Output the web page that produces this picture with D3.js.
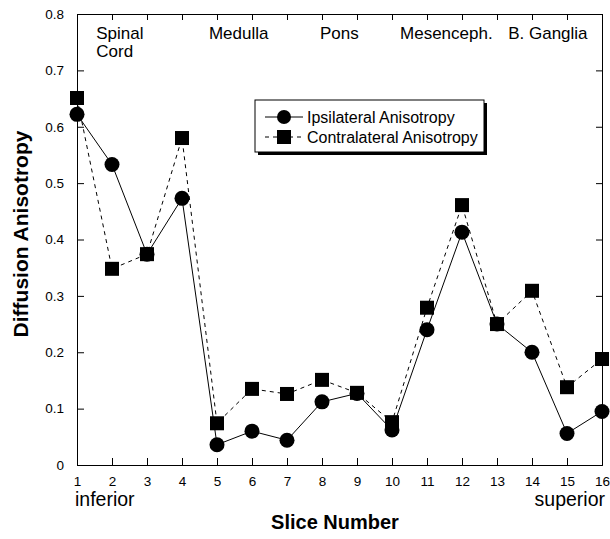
<!DOCTYPE html>
<html>
<head>
<meta charset="utf-8">
<script src="https://cdn.jsdelivr.net/npm/d3@7"></script>
<style>
  body { margin: 0; background: #fff; }
  svg text { font-family: "Liberation Sans", Arial, Helvetica, sans-serif; fill: #000; }
</style>
</head>
<body>
<svg id="chart" width="610" height="539"></svg>
<script>
// Slice numbers along x
const slices = [1, 2, 3, 4, 5, 6, 7, 8, 9, 10, 11, 12, 13, 14, 15, 16];
// Ipsilateral anisotropy (circles, solid line)
const ipsilateral = [0.622, 0.533, 0.374, 0.473, 0.036, 0.060, 0.044, 0.112, 0.127, 0.062, 0.240, 0.413, 0.250, 0.200, 0.056, 0.095];
// Contralateral anisotropy (squares, dashed line)
const contralateral = [0.651, 0.348, 0.374, 0.580, 0.074, 0.135, 0.126, 0.151, 0.128, 0.076, 0.279, 0.461, 0.250, 0.309, 0.138, 0.188];
const yTicks = [0, 0.1, 0.2, 0.3, 0.4, 0.5, 0.6, 0.7, 0.8];
// Region labels shown near the top, placed at slice positions
const regions = [
  { lines: ['Spinal', 'Cord'], slice: 1.55 },
  { lines: ['Medulla'], slice: 4.77 },
  { lines: ['Pons'], slice: 7.94 },
  { lines: ['Mesenceph.'], slice: 10.23 },
  { lines: ['B. Ganglia'], slice: 13.32 },
];

const margin = { top: 14, right: 8, bottom: 74, left: 77 };
const width = 610 - margin.left - margin.right;
const height = 539 - margin.top - margin.bottom;

const svg = d3.select('#chart');
const g = svg.append('g').attr('transform', `translate(${margin.left},${margin.top})`);

const x = d3.scaleLinear().domain([1, 16]).range([0, width]);
const y = d3.scaleLinear().domain([0, 0.8]).range([height, 0]);

// Frame with inward ticks on all four sides
const bottomAxis = d3.axisBottom(x).tickValues(slices).tickSize(-7).tickPadding(11).tickFormat(d3.format('d'));
const leftAxis = d3.axisLeft(y).tickValues(yTicks).tickSize(-7).tickPadding(13).tickFormat(d => d === 0 ? '0' : d3.format('.1f')(d));
const topAxis = d3.axisTop(x).tickValues(slices).tickSize(-6).tickFormat('');
const rightAxis = d3.axisRight(y).tickValues(yTicks).tickSize(-6).tickFormat('');

const styleAxis = (sel) => {
  sel.select('.domain').attr('stroke', '#000').attr('stroke-width', 1);
  sel.selectAll('.tick line').attr('stroke', '#000');
  sel.selectAll('.tick text').attr('font-size', 13.5).attr('font-family', '"Liberation Sans", Arial, sans-serif');
};

g.append('g').attr('transform', `translate(0,${height})`).call(bottomAxis).call(styleAxis);
g.append('g').call(leftAxis).call(styleAxis);
g.append('g').call(topAxis).call(styleAxis);
g.append('g').attr('transform', `translate(${width},0)`).call(rightAxis).call(styleAxis);

// Lines
const line = (vals) => d3.line().x((d, i) => x(slices[i])).y(d => y(d))(vals);

g.append('path')
  .attr('d', line(contralateral))
  .attr('fill', 'none')
  .attr('stroke', '#000')
  .attr('stroke-width', 1)
  .attr('stroke-dasharray', '4,4');

g.append('path')
  .attr('d', line(ipsilateral))
  .attr('fill', 'none')
  .attr('stroke', '#000')
  .attr('stroke-width', 1);

// Markers
const sq = 14;
g.selectAll('rect.contra')
  .data(contralateral)
  .join('rect')
  .attr('class', 'contra')
  .attr('x', (d, i) => x(slices[i]) - sq / 2)
  .attr('y', d => y(d) - sq / 2)
  .attr('width', sq)
  .attr('height', sq)
  .attr('fill', '#000');

g.selectAll('circle.ipsi')
  .data(ipsilateral)
  .join('circle')
  .attr('class', 'ipsi')
  .attr('cx', (d, i) => x(slices[i]))
  .attr('cy', d => y(d))
  .attr('r', 7.5)
  .attr('fill', '#000');

// Region labels
regions.forEach((r) => {
  r.lines.forEach((t, k) => {
    g.append('text')
      .attr('x', x(r.slice))
      .attr('y', 25 + k * 18)
      .attr('font-size', 17)
      .text(t);
  });
});

// inferior / superior
g.append('text').attr('x', x(1) - 2).attr('y', height + 41).attr('font-size', 19.5).text('inferior');
g.append('text').attr('x', x(16) + 3).attr('y', height + 41).attr('font-size', 19.5).attr('text-anchor', 'end').text('superior');

// Axis titles
svg.append('text')
  .attr('x', 335)
  .attr('y', 529)
  .attr('text-anchor', 'middle')
  .attr('font-size', 20)
  .attr('font-weight', 'bold')
  .text('Slice Number');

svg.append('text')
  .attr('transform', `translate(28,234) rotate(-90)`)
  .attr('text-anchor', 'middle')
  .attr('font-size', 21)
  .attr('font-weight', 'bold')
  .text('Diffusion Anisotropy');

// Legend with drop shadow
const lg = g.append('g').attr('transform', `translate(${255 - margin.left},${100 - margin.top})`);
const lw = 229;
const lh = 52;
lg.append('rect').attr('x', 3).attr('y', 3).attr('width', lw).attr('height', lh).attr('fill', '#000');
lg.append('rect').attr('width', lw).attr('height', lh).attr('fill', '#fff').attr('stroke', '#000').attr('stroke-width', 1);

const legendItems = [
  { label: 'Ipsilateral Anisotropy', dash: null, shape: 'circle', ly: 17 },
  { label: 'Contralateral Anisotropy', dash: '4,4', shape: 'square', ly: 37 },
];
legendItems.forEach((it) => {
  lg.append('line')
    .attr('x1', 10).attr('x2', 48)
    .attr('y1', it.ly).attr('y2', it.ly)
    .attr('stroke', '#000')
    .attr('stroke-dasharray', it.dash);
  if (it.shape === 'circle') {
    lg.append('circle').attr('cx', 29).attr('cy', it.ly).attr('r', 7).attr('fill', '#000');
  } else {
    lg.append('rect').attr('x', 22).attr('y', it.ly - 7).attr('width', 14).attr('height', 14).attr('fill', '#000');
  }
  lg.append('text')
    .attr('x', 52)
    .attr('y', it.ly + 5.5)
    .attr('font-size', 16)
    .text(it.label);
});
</script>
</body>
</html>
